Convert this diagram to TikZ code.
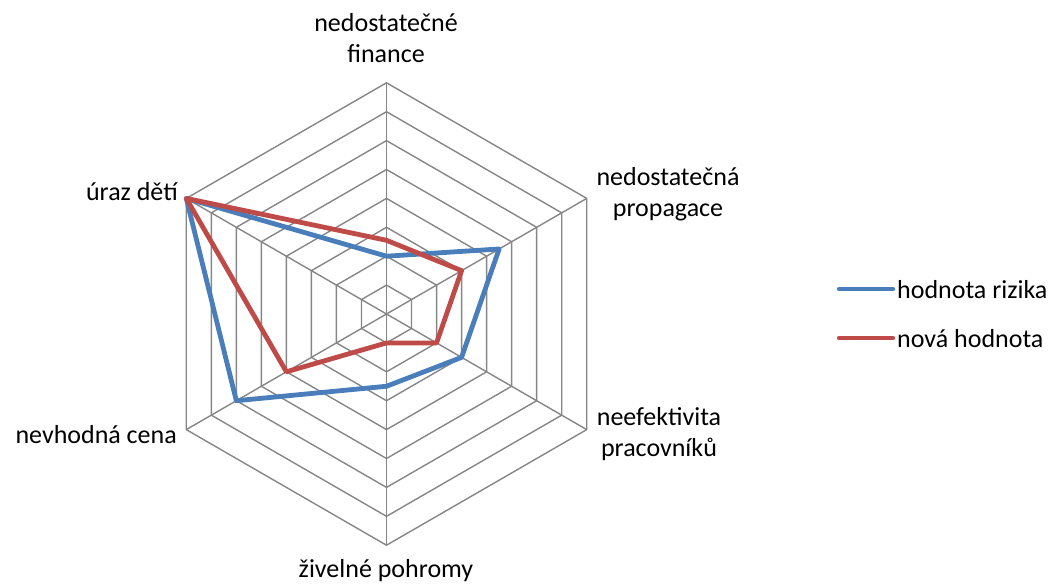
\documentclass[tikz,border=0pt]{standalone}
\usepackage{fontspec}
\setmainfont{Carlito}
\definecolor{gridgray}{HTML}{868686}
\definecolor{serblue}{HTML}{4A7EBB}
\definecolor{serred}{HTML}{BE4B48}
\tikzset{
  gridline/.style={draw=gridgray, line width=1.4pt},
  series/.style={line width=4.8pt, line join=round, line cap=round},
  lbl/.style={font=\fontsize{26}{31}\selectfont, align=center, inner sep=0pt, text=black},
}
\begin{document}
\begin{tikzpicture}[x=1pt,y=-1pt]
\useasboundingbox (0,0) rectangle (1059,584);
\coordinate (C) at (386.5,314);
\def\ring{28.9}
% grid rings
\foreach \k in {1,...,8}{
  \draw[gridline] ([shift={(90:\k*\ring pt)}]C)
    -- ([shift={(30:\k*\ring pt)}]C)
    -- ([shift={(-30:\k*\ring pt)}]C)
    -- ([shift={(-90:\k*\ring pt)}]C)
    -- ([shift={(-150:\k*\ring pt)}]C)
    -- ([shift={(150:\k*\ring pt)}]C) -- cycle;
}
% axes
\foreach \a/\n in {90/A,30/B,-30/D,-90/E,-150/F,150/G}{
  \coordinate (V\n) at ([shift={(\a:8*\ring pt)}]C);
  \draw[gridline] (C) -- (V\n);
}
% blue series
\draw[series, serblue] ([shift={(90:2*\ring pt)}]C)
  -- ([shift={(30:4.5*\ring pt)}]C)
  -- ([shift={(-30:3*\ring pt)}]C)
  -- ([shift={(-90:2.5*\ring pt)}]C)
  -- ([shift={(-150:6*\ring pt)}]C)
  -- ([shift={(150:8*\ring pt)}]C) -- cycle;
% red series
\draw[series, serred] ([shift={(90:2.55*\ring pt)}]C)
  -- ([shift={(30:3*\ring pt)}]C)
  -- ([shift={(-30:2*\ring pt)}]C)
  -- ([shift={(-90:1*\ring pt)}]C)
  -- ([shift={(-150:4*\ring pt)}]C)
  -- ([shift={(150:8*\ring pt)}]C) -- cycle;
% labels
\node[lbl] (lA) at (386,38) {nedostatečné\\finance};
\node[lbl] (lB) at (668,194) {nedostatečná\\propagace};
\node[lbl] (lD) at (659,434) {neefektivita\\pracovníků};
\node[lbl, anchor=base] (lE) at (386,577) {živelné pohromy};
\node[lbl, anchor=east] (lF) at (177,435) {nevhodná cena};
\node[lbl, anchor=east] (lG) at (178,192) {úraz dětí};
% legend
\coordinate (b1) at (839,289);
\coordinate (b2) at (893,289);
\coordinate (r1) at (839,338);
\coordinate (r2) at (893,338);
\draw[series, serblue, line width=4.2pt] (b1) -- (b2);
\draw[series, serred, line width=4.2pt] (r1) -- (r2);
\node[lbl, anchor=west] (tb) at (897,290) {hodnota rizika};
\node[lbl, anchor=west] (tr) at (897,339) {nová hodnota};
\end{tikzpicture}
\end{document}
